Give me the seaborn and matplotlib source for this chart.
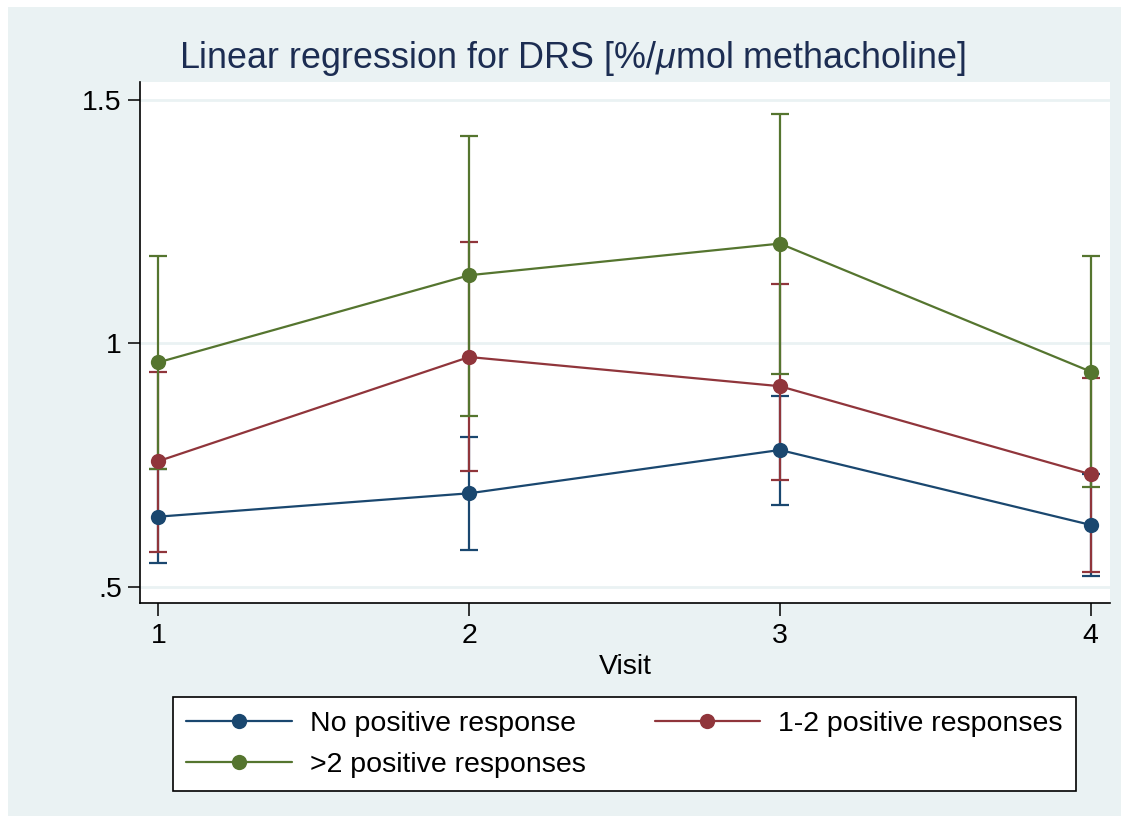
import matplotlib
matplotlib.use("Agg")
import matplotlib.pyplot as plt
import seaborn as sns
import numpy as np
import pandas as pd
from matplotlib.patches import Rectangle
from matplotlib.lines import Line2D

# ---- data ----
visits = [1, 2, 3, 4]
groups = ["No positive response", "1-2 positive responses", ">2 positive responses"]
no_pos_mean = [0.644, 0.692, 0.781, 0.627]
no_pos_lo = [0.548, 0.575, 0.668, 0.522]
no_pos_hi = [0.741, 0.807, 0.892, 0.732]
one_two_mean = [0.758, 0.972, 0.912, 0.731]
one_two_lo = [0.571, 0.737, 0.719, 0.531]
one_two_hi = [0.941, 1.209, 1.121, 0.929]
gt2_mean = [0.961, 1.140, 1.205, 0.942]
gt2_lo = [0.742, 0.851, 0.938, 0.704]
gt2_hi = [1.180, 1.427, 1.472, 1.180]
colors = ["#1A476F", "#90353B", "#55752F"]
yticks = [0.5, 1.0, 1.5]
ytick_labels = [".5", "1", "1.5"]

sns.set_theme(style="white")
plt.rcParams["font.family"] = ["Liberation Sans", "DejaVu Sans"]
plt.rcParams["mathtext.fontset"] = "custom"
plt.rcParams["mathtext.it"] = "Liberation Sans:italic"
plt.rcParams["mathtext.rm"] = "Liberation Sans"
plt.rcParams["text.color"] = "black"

W, H = 1129, 823
fig = plt.figure(figsize=(W / 100, H / 100), dpi=100, facecolor="white")
fig.patches.append(Rectangle((8 / W, 7 / H), (1121 - 8) / W, (816 - 7) / H,
                             transform=fig.transFigure, facecolor="#EAF2F3",
                             edgecolor="none", zorder=0))

left, right, top, bottom = 140, 1110, 81.7, 603.3
ax = fig.add_axes([left / W, 1 - bottom / H, (right - left) / W, (bottom - top) / H])
ax.set_zorder(2)
ax.set_facecolor("white")

rows = []
for g, m in zip(groups, [no_pos_mean, one_two_mean, gt2_mean]):
    for v, val in zip(visits, m):
        rows.append({"Visit": v, "value": val, "group": g})
df = pd.DataFrame(rows)

# error bars (confidence intervals)
for m, lo, hi, c in zip([no_pos_mean, one_two_mean, gt2_mean],
                        [no_pos_lo, one_two_lo, gt2_lo],
                        [no_pos_hi, one_two_hi, gt2_hi], colors):
    m = np.array(m); lo = np.array(lo); hi = np.array(hi)
    ax.errorbar(visits, m, yerr=[m - lo, hi - m], fmt="none", ecolor=c,
                elinewidth=1.6, capsize=6.5, capthick=1.6, zorder=2)

sns.lineplot(data=df, x="Visit", y="value", hue="group", hue_order=groups,
             palette=colors, marker="o", markersize=11, markeredgewidth=0,
             linewidth=1.6, ax=ax, zorder=3, legend=False)

ax.set_xlim(0.941, 4.062)
ax.set_ylim(0.466, 1.5376)
ax.set_xticks(visits)
ax.set_xticklabels([str(v) for v in visits])
ax.set_yticks(yticks)
ax.set_yticklabels(ytick_labels)
ax.tick_params(axis="both", which="major", direction="out", length=9, width=1.1,
               color="black", labelsize=20.5, labelcolor="black", pad=4,
               bottom=True, left=True)
ax.tick_params(axis="x", pad=5)
ax.yaxis.grid(True, color="#EAF2F3", linewidth=2)
ax.xaxis.grid(False)
ax.set_axisbelow(True)
for s in ["top", "right"]:
    ax.spines[s].set_visible(False)
for s in ["left", "bottom"]:
    ax.spines[s].set_color("black")
    ax.spines[s].set_linewidth(1.2)
ax.set_ylabel("")
ax.set_xlabel("Visit", fontsize=20.5, color="black", labelpad=4)

fig.text(572 / W, 1 - 59 / H, r"Linear regression for DRS [%/$\mu$mol methacholine]",
         ha="center", va="center", fontsize=25.8, color="#1C2D52")

handles = [Line2D([], [], color=c, marker="o", markersize=11, markeredgewidth=0, linewidth=1.6)
           for c in colors]
order = [0, 2, 1]
leg = fig.legend([handles[i] for i in order], [groups[i] for i in order],
                 ncol=2, loc="upper left",
                 bbox_to_anchor=(172.7 / W, 1 - 790 / H, (1076 - 172.7) / W, (790 - 697.3) / H),
                 mode="expand",
                 fontsize=20.5, frameon=True, fancybox=False,
                 handlelength=3.7, handletextpad=0.63, columnspacing=1.8,
                 borderpad=0.48, labelspacing=0.52, borderaxespad=0)
for t in leg.get_texts():
    t.set_color("black")
leg.get_frame().set_edgecolor("black")
leg.get_frame().set_linewidth(1.2)
leg.get_frame().set_facecolor("white")
leg.get_frame().set_alpha(1)

fig.savefig("out.png", dpi=100, facecolor="white")
